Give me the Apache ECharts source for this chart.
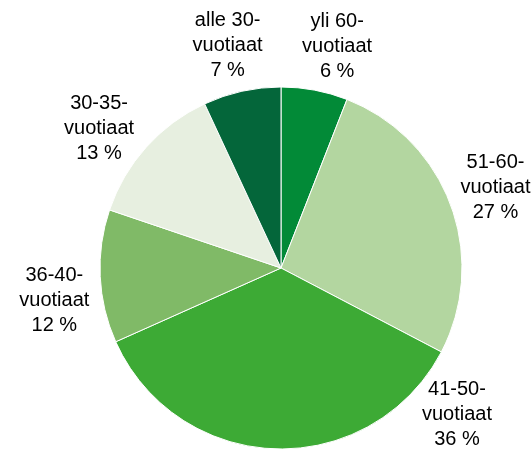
<!DOCTYPE html>
<html>
<head>
<meta charset="utf-8">
<script src="https://cdn.jsdelivr.net/npm/echarts@6/dist/echarts.min.js"></script>
<style>
  html, body { margin: 0; padding: 0; background: #fff; }
  #chart { width: 531px; height: 450px; }
</style>
</head>
<body>
<div id="chart"></div>
<script>
// ikäryhmät myötäpäivään ylhäältä alkaen
const categories = ['yli 60-\nvuotiaat', '51-60-\nvuotiaat', '41-50-\nvuotiaat', '36-40-\nvuotiaat', '30-35-\nvuotiaat', 'alle 30-\nvuotiaat'];
const shares = [6, 27, 36, 12, 13, 7];
const colors = ['#028a37', '#b3d6a0', '#3daa35', '#80ba67', '#e7efe0', '#04663a'];

const cx = 281, cy = 268, r = 181;
const labelR = 229;
const total = shares.reduce((a, b) => a + b, 0);

// keskikulma kullekin sektorille (astetta, ylhäältä myötäpäivään)
const midAngles = [];
let acc = 0;
shares.forEach(v => {
  midAngles.push((acc + v / 2) / total * 360);
  acc += v;
});
// labels in the original are nudged away from the slice middles
const labelShift = [3.5, 0, -52, -5.5, -4.5, -1];

const chart = echarts.init(document.getElementById('chart'));
chart.setOption({
  animation: false,
  series: [{
    type: 'pie',
    center: [cx, cy],
    radius: r,
    startAngle: 90,
    clockwise: true,
    data: categories.map((name, i) => ({
      name: name,
      value: shares[i],
      itemStyle: { color: colors[i] }
    })),
    itemStyle: { borderColor: '#fff', borderWidth: 1 },
    label: {
      show: true,
      position: 'outside',
      formatter: p => p.name + '\n' + p.value + ' %',
      fontFamily: 'Liberation Sans, Arial, sans-serif',
      fontSize: 20,
      lineHeight: 25,
      color: '#000',
      align: 'center',
      overflow: 'none',
      width: 120
    },
    labelLine: { show: false },
    labelLayout: p => {
      const a = (midAngles[p.dataIndex] + labelShift[p.dataIndex]) * Math.PI / 180;
      return {
        x: cx + labelR * Math.sin(a),
        y: cy - labelR * Math.cos(a),
        align: 'center',
        verticalAlign: 'middle'
      };
    },
    emphasis: { disabled: true }
  }]
});
</script>
</body>
</html>
